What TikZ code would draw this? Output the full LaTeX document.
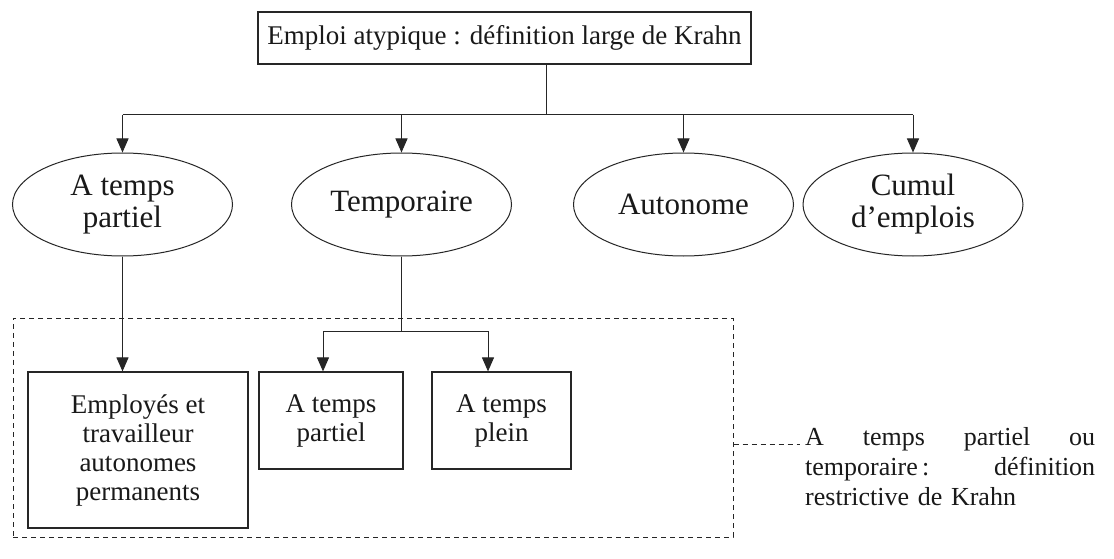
\documentclass[tikz,border=0pt]{standalone}
\usepackage{fontspec}
\setmainfont{Liberation Serif}
\usetikzlibrary{shapes.geometric,arrows.meta}
\begin{document}
\begin{tikzpicture}[x=1pt,y=-1pt,
  every node/.style={font=\fontsize{27}{29}\selectfont, text=black!90},
  conn/.style={draw=black!85, line width=1pt},
  arr/.style={conn, -{Triangle[length=14pt,width=12pt]}},
  dashconn/.style={conn, dash pattern=on 5pt off 4pt},
  boxnode/.style={draw=black!85, line width=1.2pt, rectangle, inner sep=0pt, align=center},
  ovalnode/.style={draw=black!85, line width=1pt, ellipse, minimum width=220pt,
    minimum height=103pt, inner sep=0pt, align=center,
    font=\fontsize{31}{32}\selectfont},
  framenode/.style={draw=black!85, line width=1pt, dash pattern=on 5pt off 4pt,
    rectangle, inner sep=0pt},
]
\useasboundingbox (0,0) rectangle (1114,559);
\fill[white] (0,0) rectangle (1114,559);

% broad definition and its four categories
\node[boxnode, minimum width=493pt, minimum height=52pt] (top) at (504.5,38)
  {Emploi atypique : définition large de Krahn};
\node[ovalnode] (tp)  at (122.5,204.5) {A temps\\partiel};
\node[ovalnode] (tmp) at (401.5,204.5) {Temporaire};
\node[ovalnode] (aut) at (683.5,204.5) {Autonome};
\node[ovalnode] (cum) at (913,204.5)   {Cumul\\d’emplois};

% restrictive definition: dashed frame and its boxes
\node[framenode, minimum width=720pt, minimum height=219pt] (frame) at (373,427.5) {};
\node[boxnode, minimum width=220pt, minimum height=156pt] (perm) at (138,450)
  {Employés et\\travailleur\\autonomes\\permanents};
\node[boxnode, minimum width=144pt, minimum height=97pt] (tpp) at (331,420.5)
  {A temps\\partiel};
\node[boxnode, minimum width=139pt, minimum height=97pt] (tpl) at (501.5,420.5)
  {A temps\\plein};

\node[anchor=west, text width=290pt, align=left, inner sep=0pt,
      font=\fontsize{26}{30}\selectfont] (note) at (805,467)
  {\makebox[290pt][l]{A\hfill temps\hfill partiel\hfill ou}\\
   \makebox[290pt][l]{temporaire\,:\hfill définition}\\
   restrictive de Krahn};

% connectors
\coordinate (bus) at (546,115);
\draw[conn] (top.south -| bus) -- (bus);
\draw[conn] (tp.north |- bus) -- (cum.north |- bus);
\foreach \n in {tp,tmp,aut,cum}
  \draw[arr] (\n.north |- bus) -- (\n.north);

\draw[arr] (tp.south) -- (tp.south |- perm.north);

\coordinate (fork)  at (401.5,331);
\coordinate (forkL) at (323,331);
\coordinate (forkR) at (488,331);
\draw[conn] (tmp.south) -- (fork);
\draw[conn] (forkL) -- (forkR);
\draw[arr] (forkL) -- (forkL |- tpp.north);
\draw[arr] (forkR) -- (forkR |- tpl.north);

\coordinate (tag) at (800,444);
\draw[dashconn] (frame.east |- tag) -- (tag);
\end{tikzpicture}
\end{document}
